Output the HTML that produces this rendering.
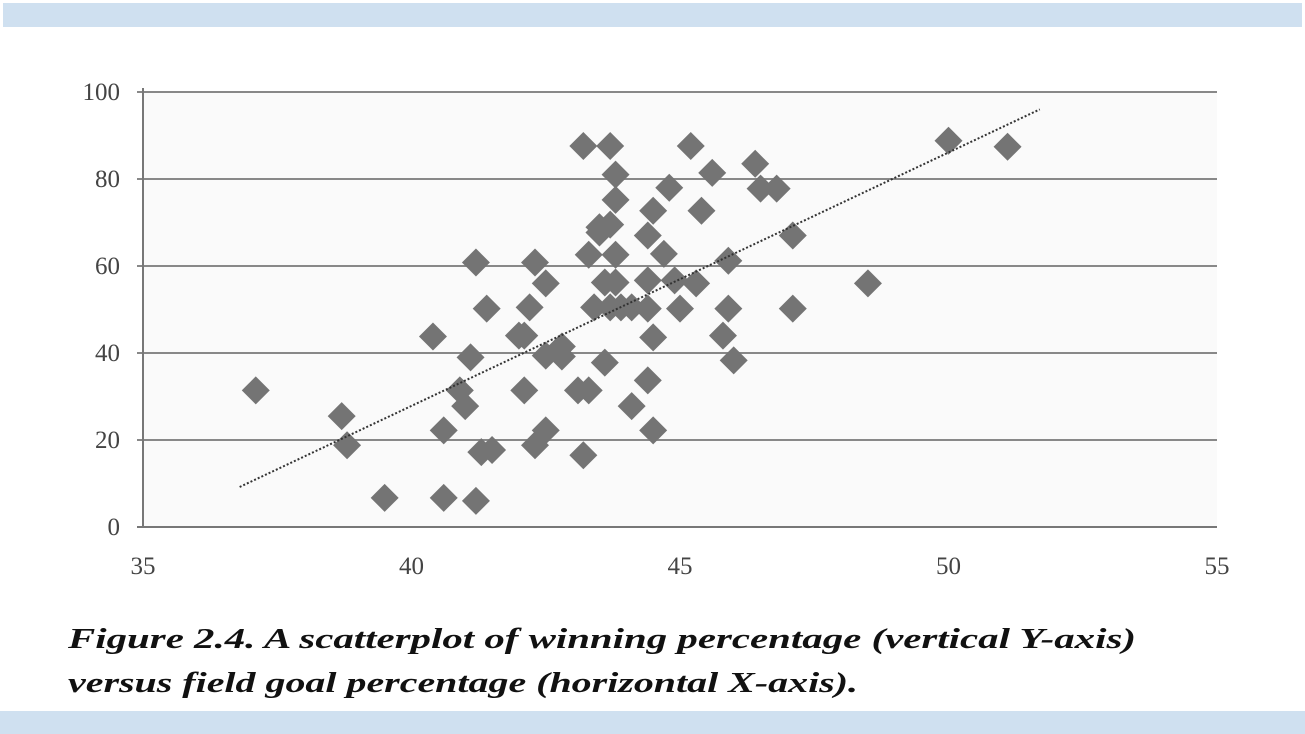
<!DOCTYPE html>
<html><head><meta charset="utf-8"><style>
body{margin:0;background:#fff;}
svg{display:block;}
</style></head><body>
<svg width="1305" height="734" viewBox="0 0 1305 734" xmlns="http://www.w3.org/2000/svg">
<rect x="0" y="0" width="1305" height="734" fill="#fff"/>
<rect x="3" y="3" width="1299" height="24" fill="#cfe0f0"/>
<rect x="0" y="711" width="1305" height="23" fill="#cfe0f0"/>
<rect x="143" y="92" width="1074" height="435" fill="#fafafa"/>
<g id="grid"></g>
<g id="yticks" font-family="Liberation Serif, serif" font-size="25" fill="#444" text-anchor="end"></g>
<g id="xticks" font-family="Liberation Serif, serif" font-size="25" fill="#444" text-anchor="middle"></g>
<line x1="143" y1="88" x2="143" y2="527" stroke="#777" stroke-width="2"/>
<line x1="137" y1="527" x2="1217" y2="527" stroke="#777" stroke-width="2"/>
<g id="points"></g>
<line id="trend" stroke="#333" stroke-width="2" stroke-dasharray="2,2"/>
<g font-family="Liberation Serif, serif" font-weight="bold" font-style="italic" font-size="29" fill="#111">
<text x="68" y="648" textLength="1068" lengthAdjust="spacingAndGlyphs">Figure 2.4.  A scatterplot of winning percentage (vertical Y-axis)</text>
<text x="68" y="692" textLength="790" lengthAdjust="spacingAndGlyphs">versus field goal percentage (horizontal X-axis).</text>
</g>
</svg>
<script>
const xTicks=[35,40,45,50,55];
const yTicks=[0,20,40,60,80,100];
const xs=[37.1,38.7,38.8,39.5,40.4,41.2,41.1,40.9,41.0,40.6,40.6,41.2,41.3,41.5,41.4,42.3,42.2,42.0,42.1,42.5,42.3,42.5,42.5,42.8,42.8,43.2,43.7,43.3,43.1,43.3,43.2,43.4,43.6,43.6,43.5,43.7,43.8,43.8,43.8,43.8,43.7,43.9,44.1,44.1,44.7,44.4,44.5,44.8,45.2,45.6,45.4,44.4,44.9,45.3,45.0,44.4,44.5,44.4,44.5,45.9,45.9,45.8,46.0,46.4,46.5,46.8,47.1,47.1,48.5,50.0,51.1,43.5,42.1];
const ys=[31.4,25.5,18.8,6.7,43.8,60.8,39.0,31.4,27.8,22.2,6.7,6.0,17.2,17.7,50.2,60.8,50.5,44.0,31.4,56.0,18.8,22.2,39.4,39.2,41.5,87.6,87.6,62.6,31.4,31.4,16.5,50.5,37.8,56.2,67.7,69.5,81.0,75.2,62.6,56.2,50.5,50.5,50.5,27.8,62.8,67.0,72.7,78.0,87.6,81.4,72.7,56.7,56.7,56.0,50.2,50.2,43.6,33.7,22.2,61.2,50.2,44.0,38.3,83.5,77.8,77.8,67.0,50.2,56.0,88.8,87.4,68.9,44.0];
const trendX=[36.8,51.7];
const trendY=[9.2,96.0];
const NS='http://www.w3.org/2000/svg';
const X=v=>143+(v-35)*(1074/20);
const Y=v=>527-v*4.35;
const grid=document.getElementById('grid'),yt=document.getElementById('yticks'),xt=document.getElementById('xticks'),pts=document.getElementById('points');
yTicks.forEach(t=>{
 if(t>0){const l=document.createElementNS(NS,'line');
 l.setAttribute('x1',137);l.setAttribute('x2',1217);l.setAttribute('y1',Y(t));l.setAttribute('y2',Y(t));
 l.setAttribute('stroke','#888');l.setAttribute('stroke-width','2');
 
 
 grid.appendChild(l);}
 const s=document.createElementNS(NS,'text');
 s.setAttribute('x',120);s.setAttribute('y',Y(t)+8);s.textContent=t;
 
 
 yt.appendChild(s);
});
xTicks.forEach(t=>{
 const s=document.createElementNS(NS,'text');
 s.setAttribute('x',X(t));s.setAttribute('y',574);s.textContent=t;
 
 
 xt.appendChild(s);
});
xs.forEach((v,i)=>{
 const cx=X(v),cy=Y(ys[i]),r=14;
 const p=document.createElementNS(NS,'polygon');
 p.setAttribute('points',`${cx},${cy-r} ${cx+r},${cy} ${cx},${cy+r} ${cx-r},${cy}`);
 p.setAttribute('fill','#747474');
 
 
 pts.appendChild(p);
});
const tr=document.getElementById('trend');
tr.setAttribute('x1',X(trendX[0]));tr.setAttribute('y1',Y(trendY[0]));
tr.setAttribute('x2',X(trendX[1]));tr.setAttribute('y2',Y(trendY[1]));
</script>
</body></html>
